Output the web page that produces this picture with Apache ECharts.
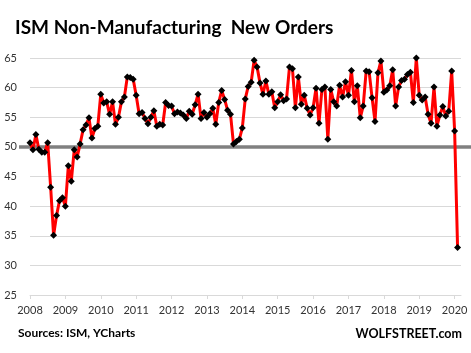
<!DOCTYPE html>
<html>
<head>
<meta charset="utf-8">
<script src="https://cdn.jsdelivr.net/npm/echarts/dist/echarts.min.js"></script>
<style>
  html, body { margin: 0; padding: 0; background: #fff; }
  #chart { width: 471px; height: 353px; }
</style>
</head>
<body>
<div id="chart"></div>
<script>
// monthly New Orders index, first point plotted at the 2008 tick
const startYear = 2008
const newOrders = [
  50.7, 49.5, 52.1, 49.6, 49.1, 49.1, 50.7, 43.2, 35.1, 38.4, 40.9, 41.4,
  40.0, 46.8, 44.2, 49.5, 48.3, 50.5, 52.9, 53.7, 54.9, 51.5, 53.1, 53.5,
  58.9, 57.4, 57.6, 55.5, 57.6, 53.8, 55.0, 57.6, 58.4, 61.8, 61.7, 61.4,
  58.7, 55.6, 55.8, 54.8, 53.9, 55.0, 56.1, 53.5, 53.8, 53.7, 57.5, 57.0,
  56.9, 55.6, 55.9, 55.7, 55.4, 54.8, 56.0, 55.5, 57.1, 58.9, 54.8, 55.8,
  55.0, 55.6, 56.5, 53.8, 57.5, 59.5, 58.0, 56.2, 55.5, 50.5, 50.9, 51.3,
  53.2, 58.1, 60.2, 60.9, 64.6, 63.5, 60.8, 58.9, 61.1, 58.9, 59.3, 56.6,
  57.6, 58.8, 57.8, 58.1, 63.5, 63.2, 56.6, 61.8, 57.2, 58.7, 56.5, 55.4,
  56.6, 59.9, 54.0, 59.7, 60.1, 51.3, 59.7, 57.6, 56.9, 60.4, 58.4, 61.0,
  58.7, 62.9, 57.6, 60.3, 54.9, 56.9, 62.8, 62.7, 58.3, 54.3, 62.5, 64.5,
  59.2, 59.6, 60.3, 63.0, 56.9, 60.1, 61.2, 61.4, 62.2, 62.6, 57.5, 65.0,
  58.7, 57.9, 58.4, 55.5, 54.0, 60.1, 53.5, 55.4, 56.8, 55.2, 56.0, 62.8,
  52.7, 33.0
]
const years = [2008, 2009, 2010, 2011, 2012, 2013, 2014, 2015, 2016, 2017, 2018, 2019, 2020]
const threshold = 50

const seriesData = newOrders.map((v, i) => [startYear + i / 12, v])

const chart = echarts.init(document.getElementById('chart'))

const labelFont = 'Lato, "Open Sans", sans-serif'

chart.setOption({
  animation: false,
  backgroundColor: '#fff',
  title: [
    {
      text: 'ISM Non-Manufacturing  New Orders',
      left: 15,
      top: 18,
      padding: 0,
      textStyle: { fontFamily: labelFont, fontSize: 19, fontWeight: 'bold', color: '#000' }
    },
    {
      text: 'Sources: ISM, YCharts',
      left: 18,
      top: 327,
      padding: 0,
      textStyle: { fontFamily: labelFont, fontSize: 12, fontWeight: 'bold', color: '#000' }
    },
    {
      text: 'WOLFSTREET.com',
      right: 9,
      top: 327,
      padding: 0,
      textStyle: { fontFamily: labelFont, fontSize: 12.5, fontWeight: 'bold', color: '#000' }
    }
  ],
  grid: [
    { left: 30, right: 10, top: 58, bottom: 58 },
    { left: 19, right: 0, top: 58, bottom: 58 }
  ],
  xAxis: [
    {
      type: 'value',
      gridIndex: 0,
      min: 2008,
      max: 2020.18,
      interval: 1,
      axisLine: { show: true, lineStyle: { color: '#d9d9d9', width: 1 } },
      axisTick: { show: true, length: 4, lineStyle: { color: '#d9d9d9' }, customValues: years },
      axisLabel: {
        customValues: years,
        margin: 10,
        fontFamily: labelFont,
        fontSize: 11,
        color: '#333',
        formatter: v => String(v)
      },
      splitLine: { show: false }
    },
    { type: 'value', gridIndex: 1, min: 0, max: 1, show: false }
  ],
  yAxis: [
    {
      type: 'value',
      gridIndex: 0,
      min: 25,
      max: 65,
      interval: 5,
      axisLine: { show: false },
      axisTick: { show: false },
      axisLabel: { margin: 13, fontFamily: labelFont, fontSize: 11, color: '#333' },
      splitLine: { lineStyle: { color: '#d9d9d9', width: 1 } }
    },
    { type: 'value', gridIndex: 1, min: 25, max: 65, show: false }
  ],
  series: [
    {
      type: 'line',
      xAxisIndex: 1,
      yAxisIndex: 1,
      data: [[0, threshold], [1, threshold]],
      symbol: 'none',
      lineStyle: { color: '#808080', width: 3.5 },
      z: 2,
      silent: true
    },
    {
      name: 'New Orders',
      type: 'line',
      data: seriesData,
      symbol: 'diamond',
      symbolSize: 7,
      itemStyle: { color: '#000' },
      lineStyle: { color: '#ff0000', width: 3 },
      z: 3
    }
  ]
})
</script>
</body>
</html>
